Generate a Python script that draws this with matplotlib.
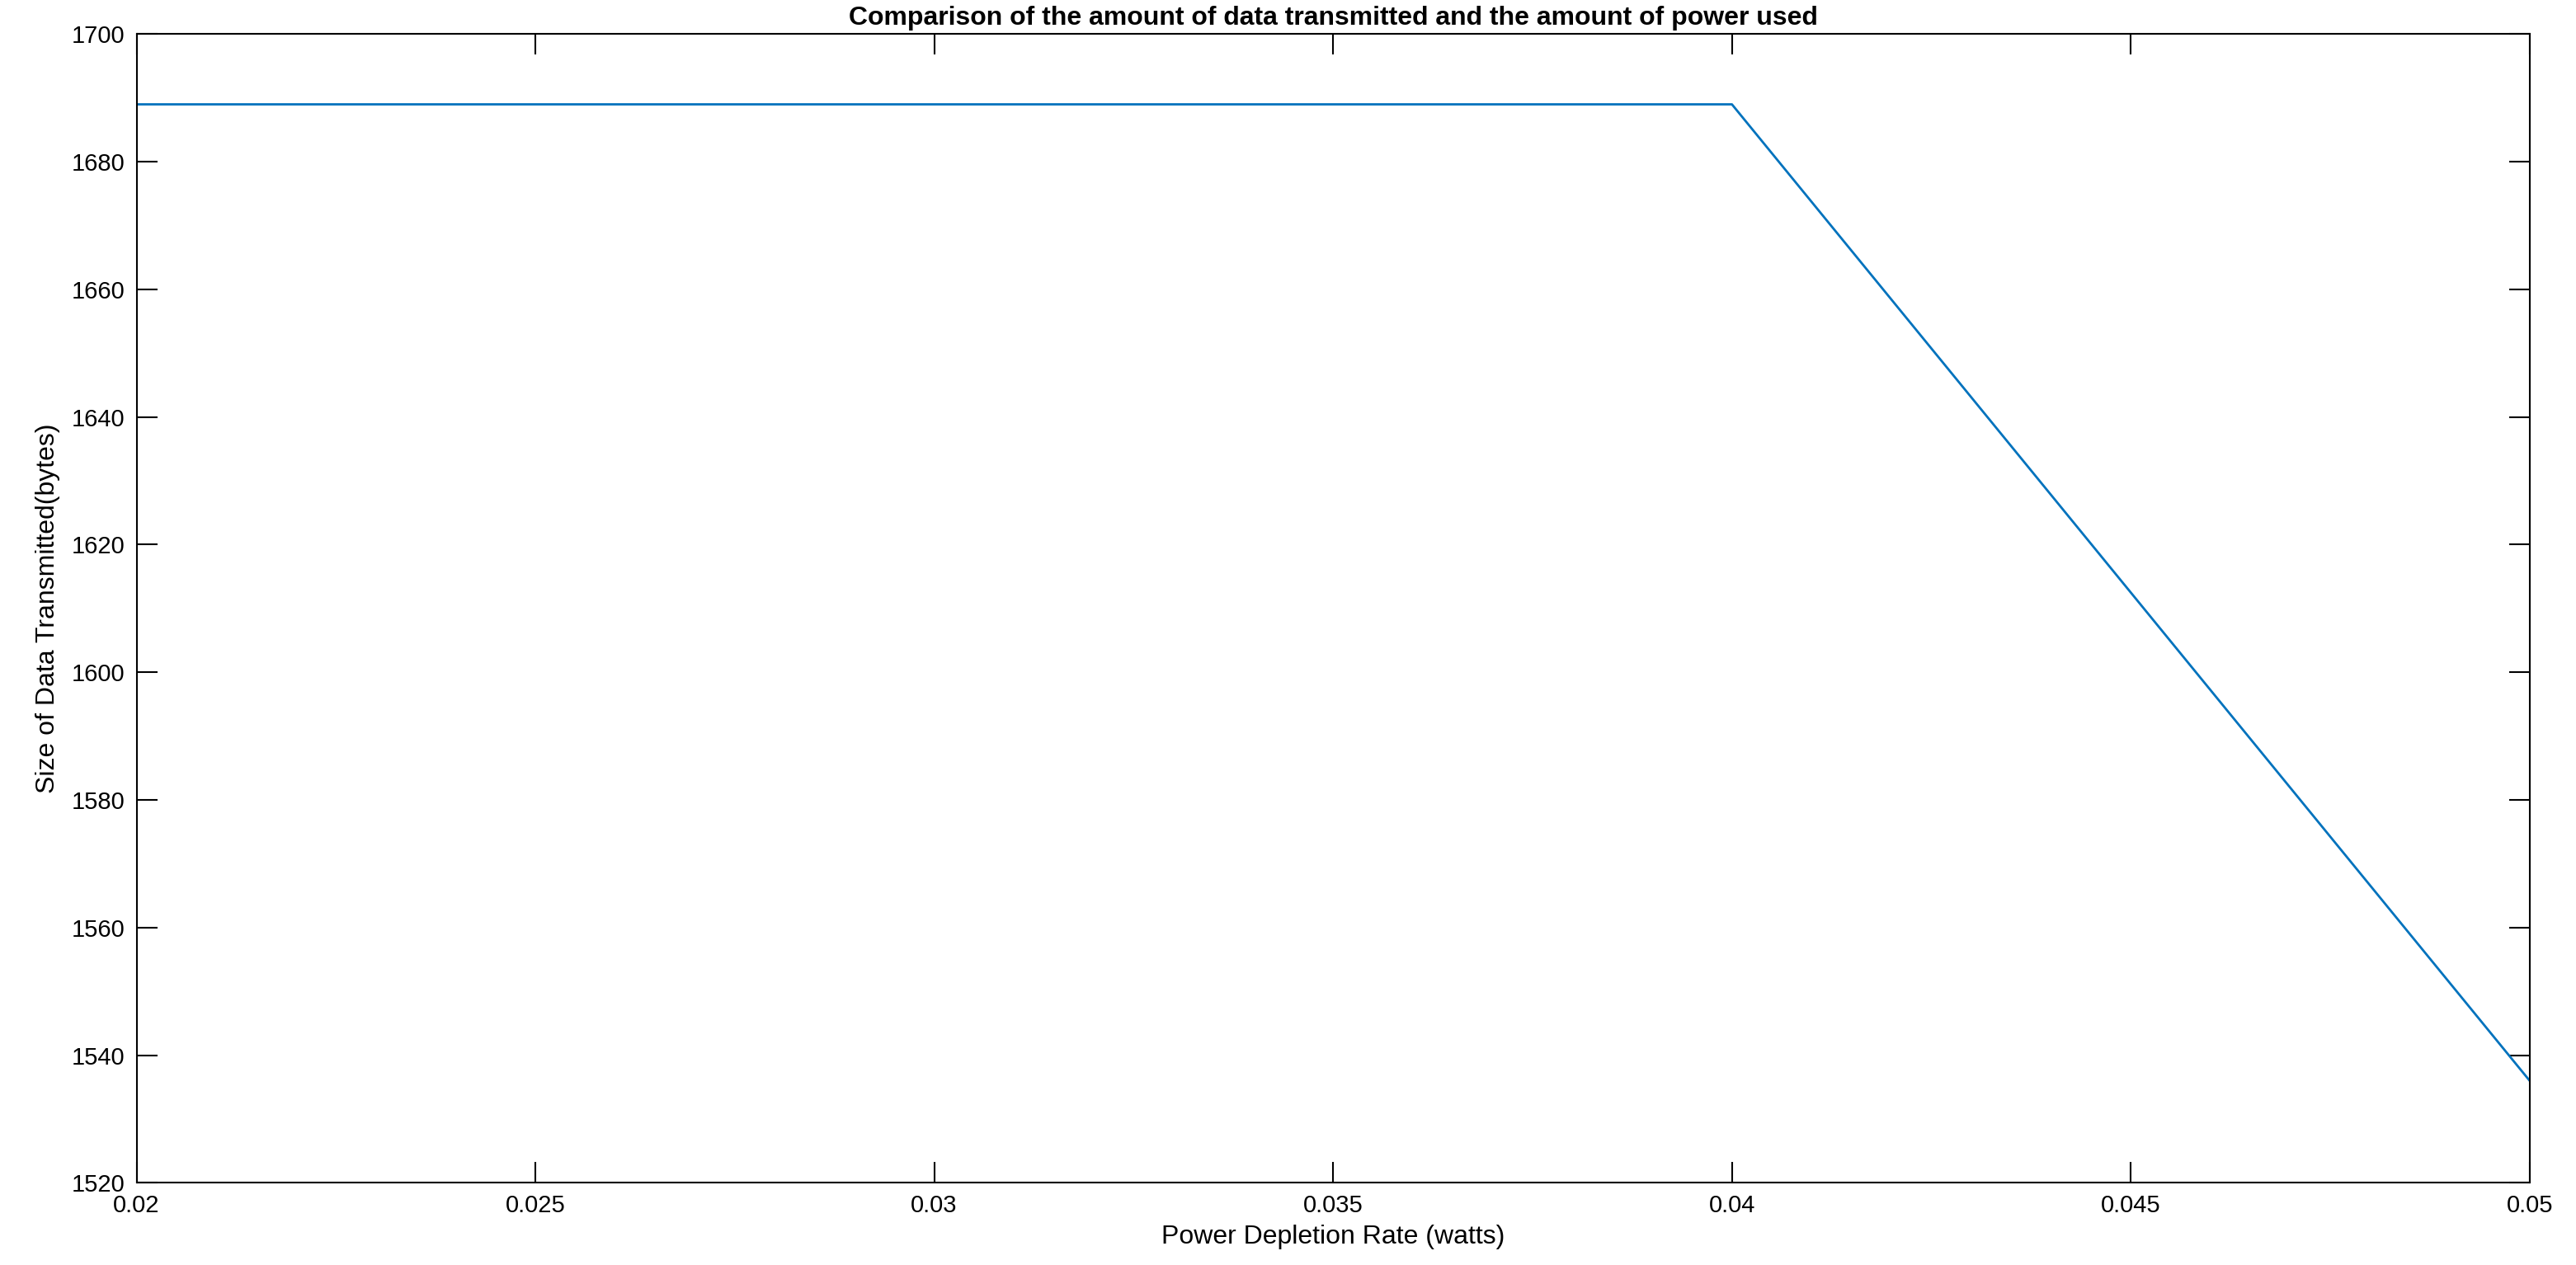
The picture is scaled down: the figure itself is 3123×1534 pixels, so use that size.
import matplotlib
matplotlib.use('Agg')
import matplotlib.pyplot as plt

power_rate = [0.02, 0.025, 0.03, 0.035, 0.04, 0.045, 0.05]
data_size = [1689, 1689, 1689, 1689, 1689, 1612.5, 1536]

plt.rcParams['font.family'] = ['Liberation Sans', 'DejaVu Sans']

fig = plt.figure(figsize=(31.23, 15.34), dpi=100)
ax = fig.add_axes([0.053, 0.065, 0.929, 0.908])
ax.plot(power_rate, data_size, color='#0072BD', linewidth=2)

ax.set_xlim(0.02, 0.05)
ax.set_ylim(1520, 1700)
ax.set_xticks([0.02, 0.025, 0.03, 0.035, 0.04, 0.045, 0.05])
ax.set_xticklabels(['0.02', '0.025', '0.03', '0.035', '0.04', '0.045', '0.05'])
ax.set_yticks(range(1520, 1701, 20))
ax.tick_params(direction='in', top=True, right=True, length=18, width=1.5,
               labelsize=21, pad=10)
for s in ax.spines.values():
    s.set_linewidth(1.5)

ax.set_xlabel('Power Depletion Rate (watts)', fontsize=23, labelpad=6)
ax.set_ylabel('Size of Data Transmitted(bytes)', fontsize=23, labelpad=10)
ax.set_title('Comparison of the amount of data transmitted and the amount of power used',
             fontsize=23, fontweight='bold', pad=8)

fig.savefig('out.png', dpi=100)
